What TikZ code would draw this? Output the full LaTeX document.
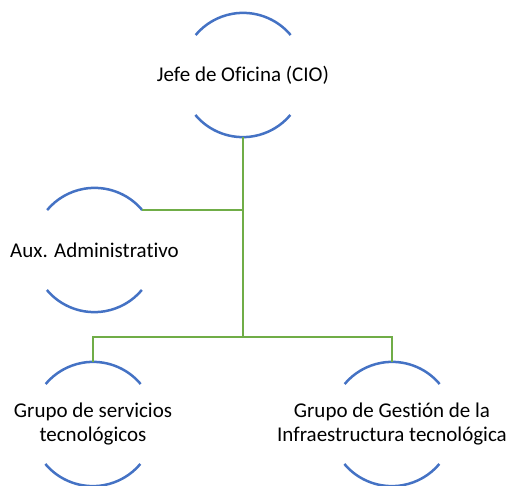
\documentclass[tikz,border=0pt]{standalone}
\usepackage{fontspec}
\setmainfont{Carlito}[Ligatures=NoCommon]
\usetikzlibrary{positioning}

\begin{document}
\begin{tikzpicture}[x=1pt,y=1pt,
	unit/.style={circle,minimum size=124pt,inner sep=0pt},
	lbl/.style={align=center,font=\fontsize{21}{24.5}\selectfont,inner sep=0pt},
	rim/.style={draw={rgb,255:red,68;green,114;blue,196},line width=2.5pt},
	link/.style={draw={rgb,255:red,112;green,173;blue,71},line width=2.5pt}]
	\useasboundingbox (0,0) rectangle (509,485);
	\node (cio) at (243,410) [unit,label={[lbl]center:Jefe de Oficina (CIO)}] {};
	\node (aux) at (94.5,235) [unit,label={[lbl]center:Aux. Administrativo}] {};
	\node (gst) at (93,61) [unit,label={[lbl]center:Grupo de servicios\\tecnológicos}] {};
	\node (git) at (392,61) [unit,label={[lbl]center:Grupo de Gestión de la\\Infraestructura tecnológica}] {};
	\coordinate (bus) at (243,148);

	\foreach \n in {cio,aux,gst,git} {
		\draw[rim] (\n.40) arc[start angle=40,end angle=140,radius=62pt];
		\draw[rim] (\n.220) arc[start angle=220,end angle=320,radius=62pt];
	}
	\path[link] (cio.south) -- (bus);
	\path[link] (aux.40) -- (aux.40 -| bus);
	\path[link] (gst.north) |- (bus) -| (git.north);
\end{tikzpicture}
\end{document}
